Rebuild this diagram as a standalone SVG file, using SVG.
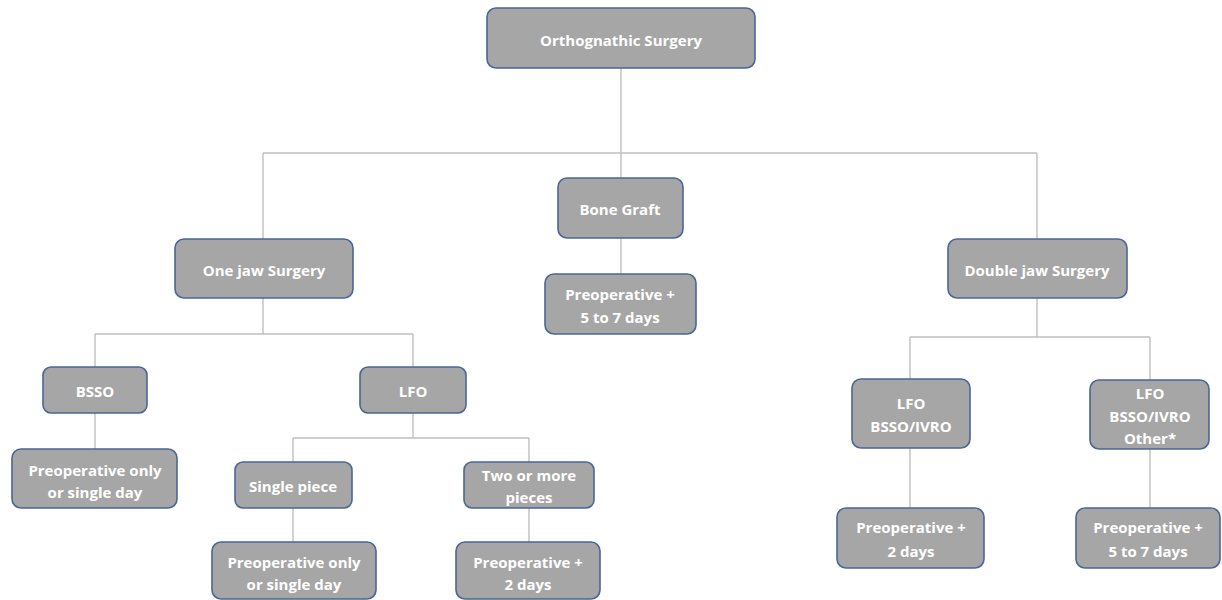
<svg xmlns="http://www.w3.org/2000/svg" width="1222" height="600" viewBox="0 0 1222 600">
<style>
.n rect{fill:#a6a6a6;stroke:#4a6696;stroke-width:1.6}
.n text{fill:#fff;font-family:"Open Sans","Liberation Sans",sans-serif;font-weight:bold;font-size:15px;text-anchor:middle;dominant-baseline:central}
#connectors path{fill:none;stroke:#c0c0c0;stroke-width:1.4}
</style>
<rect width="1222" height="600" fill="#fff"/>
<g id="connectors">
<path d="M621 68V153M263 153H1037M263 153V239M1037 153V239M621 153V178M621 238V274"/>
<path d="M263 298V334M95 334H413M95 334V367M413 334V367M95 413V449"/>
<path d="M413 413V438M293 438H529M293 438V462M529 438V462M293 508V542M529 508V542"/>
<path d="M1037 298V337M910 337H1150M910 337V379M1150 337V380M910 448V508M1150 449V508"/>
</g>
<g id="root" class="n"><rect x="487" y="8" width="268" height="60" rx="9"/><text x="621" y="40">Orthognathic Surgery</text></g>
<g id="bonegraft" class="n"><rect x="558" y="178" width="125" height="60" rx="9"/><text x="620" y="209">Bone Graft</text></g>
<g id="bonegraft-pre" class="n"><rect x="545" y="274" width="151" height="60" rx="9"/><text x="620" y="294">Preoperative +</text><text x="620" y="317">5 to 7 days</text></g>
<g id="onejaw" class="n"><rect x="175" y="239" width="178" height="59" rx="9"/><text x="264" y="270">One jaw Surgery</text></g>
<g id="doublejaw" class="n"><rect x="948" y="239" width="179" height="59" rx="9"/><text x="1037" y="270">Double jaw Surgery</text></g>
<g id="bsso" class="n"><rect x="43" y="367" width="104" height="46" rx="8"/><text x="95" y="391">BSSO</text></g>
<g id="bsso-pre" class="n"><rect x="12" y="449" width="165" height="59" rx="9"/><text x="95" y="470">Preoperative only</text><text x="95" y="492">or single day</text></g>
<g id="lfo" class="n"><rect x="360" y="367" width="106" height="46" rx="8"/><text x="413" y="391">LFO</text></g>
<g id="single" class="n"><rect x="235" y="462" width="117" height="46" rx="8"/><text x="293" y="486">Single piece</text></g>
<g id="two" class="n"><rect x="464" y="462" width="130" height="46" rx="8"/><text x="529" y="475">Two or more</text><text x="529" y="497">pieces</text></g>
<g id="single-pre" class="n"><rect x="212" y="542" width="164" height="57" rx="9"/><text x="294" y="562">Preoperative only</text><text x="294" y="584">or single day</text></g>
<g id="two-pre" class="n"><rect x="456" y="542" width="144" height="57" rx="9"/><text x="528" y="562">Preoperative +</text><text x="528" y="584">2 days</text></g>
<g id="dj-a" class="n"><rect x="852" y="379" width="118" height="69" rx="9"/><text x="911" y="403">LFO</text><text x="911" y="426">BSSO/IVRO</text></g>
<g id="dj-b" class="n"><rect x="1090" y="380" width="119" height="69" rx="9"/><text x="1150" y="393">LFO</text><text x="1150" y="416">BSSO/IVRO</text><text x="1150" y="438">Other*</text></g>
<g id="dj-a-pre" class="n"><rect x="837" y="508" width="147" height="60" rx="9"/><text x="911" y="527">Preoperative +</text><text x="911" y="551">2 days</text></g>
<g id="dj-b-pre" class="n"><rect x="1076" y="508" width="144" height="60" rx="9"/><text x="1148" y="527">Preoperative +</text><text x="1148" y="551">5 to 7 days</text></g>
</svg>
